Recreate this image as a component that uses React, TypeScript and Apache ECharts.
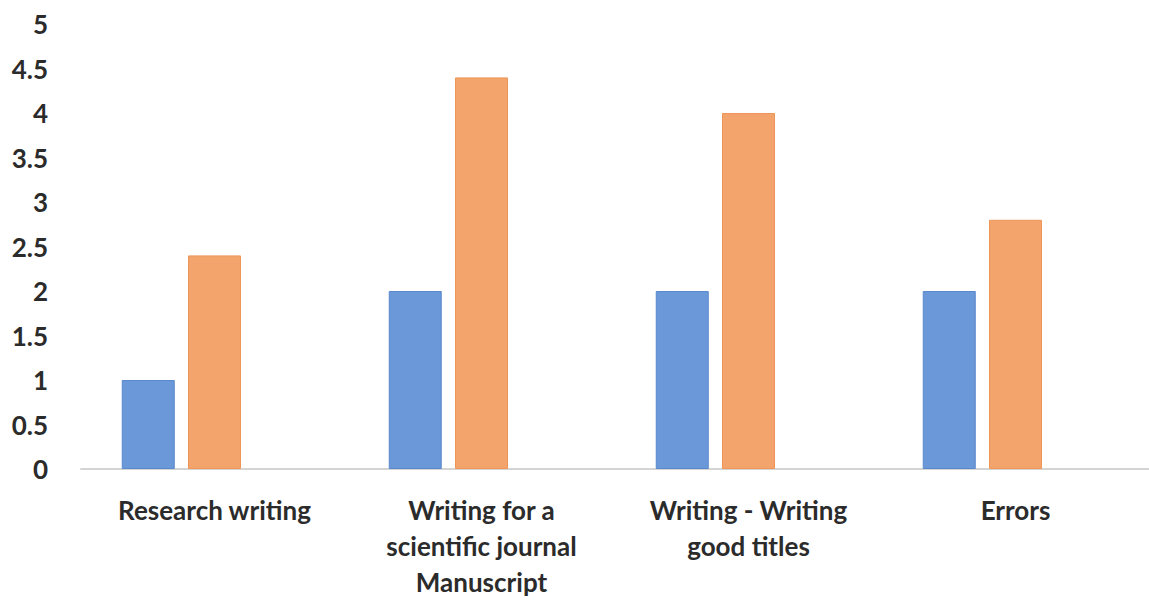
import React, { useEffect, useRef } from "react";
import * as echarts from "echarts";

const categories = [
  "Research writing",
  "Writing for a\nscientific journal\nManuscript",
  "Writing - Writing\ngood titles",
  "Errors",
];
const seriesA = [1, 2, 2, 2];
const seriesB = [2.4, 4.4, 4, 2.8];
// third (empty) series present in the original chart, reserving its slot in each group
const seriesC = [0, 0, 0, 0];

export default function App() {
  const ref = useRef<HTMLDivElement>(null);
  useEffect(() => {
    const chart = echarts.init(ref.current!, null, { renderer: "svg" });
    chart.setOption({
      animation: false,
      backgroundColor: "#ffffff",
      grid: { left: 81, right: -4, top: 24, bottom: 131, containLabel: false },
      xAxis: {
        type: "category",
        data: categories,
        axisLine: { show: true, lineStyle: { color: "#d4d4d4", width: 2 } },
        axisTick: { show: false },
        axisLabel: {
          color: "#2b2b2b",
          fontFamily: "Lato",
          fontWeight: "bold",
          fontSize: 26,
          lineHeight: 36,
          margin: 23,
          interval: 0,
        },
      },
      yAxis: {
        type: "value",
        min: 0,
        max: 5,
        interval: 0.5,
        splitLine: { show: false },
        axisLine: { show: false },
        axisTick: { show: false },
        axisLabel: {
          color: "#2b2b2b",
          fontFamily: "Lato",
          fontWeight: "bold",
          fontSize: 26,
          margin: 33,
        },
      },
      series: [
        {
          type: "bar",
          data: seriesA,
          barWidth: 53,
          barGap: "25%",
          itemStyle: { color: "#6a98d8", borderColor: "#5a88cc", borderWidth: 1 },
        },
        {
          type: "bar",
          data: seriesB,
          barWidth: 53,
          barGap: "25%",
          itemStyle: { color: "#f3a46c", borderColor: "#ee9658", borderWidth: 1 },
        },
        {
          type: "bar",
          data: seriesC,
          barWidth: 53,
          barGap: "25%",
          itemStyle: { color: "#bdbdbd", borderWidth: 0 },
        },
      ],
    });
    return () => chart.dispose();
  }, []);
  return <div ref={ref} style={{ width: 1149, height: 600, position: "absolute", left: 0, top: 0 }} />;
}
